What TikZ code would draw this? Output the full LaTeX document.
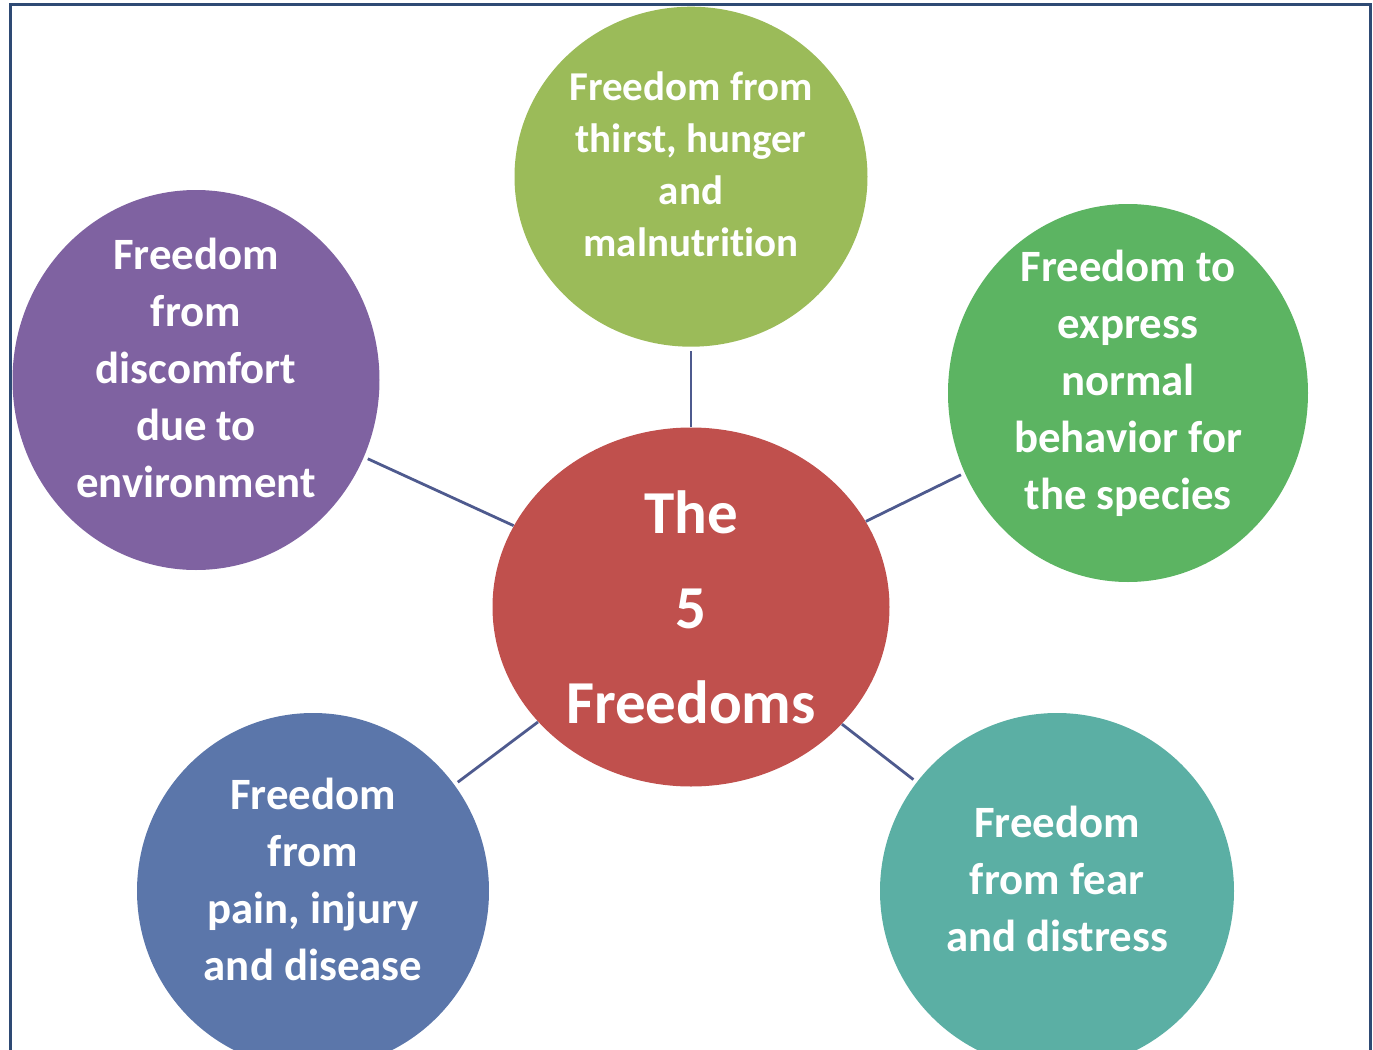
\documentclass[tikz,border=0pt]{standalone}
\usepackage{fontspec}
\setmainfont[Ligatures=NoCommon]{Carlito}
\usetikzlibrary{shapes.geometric,positioning}

\definecolor{corered}{HTML}{C0504D}
\definecolor{thirstgreen}{HTML}{9BBB59}
\definecolor{natgreen}{HTML}{5CB462}
\definecolor{comfpurple}{HTML}{7F62A1}
\definecolor{painblue}{HTML}{5B76AA}
\definecolor{fearteal}{HTML}{5BAFA4}
\definecolor{linkblue}{HTML}{4E5A8E}
\definecolor{framblue}{HTML}{2E4A74}

\begin{document}
\begin{tikzpicture}[
x=0.5pt, y=-0.5pt,
freedom/.style={ellipse, inner sep=0pt, draw=none},
caption/.style={text=white, align=center, inner sep=0pt,
    font=\bfseries\fontsize{22.4}{28.5}\selectfont},
link/.style={draw=linkblue, line width=1.4pt, shorten <=2pt},
]

\useasboundingbox (0,0) rectangle (1373,1050);
\draw[framblue, line width=1.5pt] (10,4) rectangle (1370,1070);

% the centre
\node[freedom, fill=corered, minimum width=198.5pt, minimum height=179.5pt] (core) at (691,607) {};
\node[caption, font=\bfseries\fontsize{30.5}{47.5}\selectfont] (core-text) at (core) {The\\5\\Freedoms};

% the five around it
\node[freedom, fill=thirstgreen, minimum width=176.5pt, minimum height=170pt, above=40pt of core] (thirst) {};
\node[freedom, fill=natgreen, minimum width=180pt, minimum height=189pt] (behave) at (1128,393) {};
\node[freedom, fill=comfpurple, minimum width=183.5pt, minimum height=190pt] (comfort) at (196,380) {};
\node[freedom, fill=painblue, minimum width=176pt, minimum height=178pt] (pain) at (313,891) {};
\node[freedom, fill=fearteal, minimum width=177pt, minimum height=178pt] (fear) at (1057,891) {};

\node[caption, font=\bfseries\fontsize{20.5}{26}\selectfont] (thirst-text) at ([yshift=6pt]thirst.center) {Freedom from\\thirst, hunger\\and\\malnutrition};
\node[caption] (behave-text) at ([yshift=5pt]behave.center) {Freedom to\\express\\normal\\behavior for\\the species};
\node[caption] (comfort-text) at ([yshift=6pt]comfort.center) {Freedom\\from\\discomfort\\due to\\environment};
\node[caption] (pain-text) at ([yshift=6pt]pain.center) {Freedom\\from\\pain, injury\\and disease};
\node[caption] (fear-text) at ([yshift=6pt]fear.center) {Freedom\\from fear\\and distress};

\foreach \f in {thirst,behave,comfort,pain,fear}
  \draw[link] (\f) -- (core);

\end{tikzpicture}
\end{document}
